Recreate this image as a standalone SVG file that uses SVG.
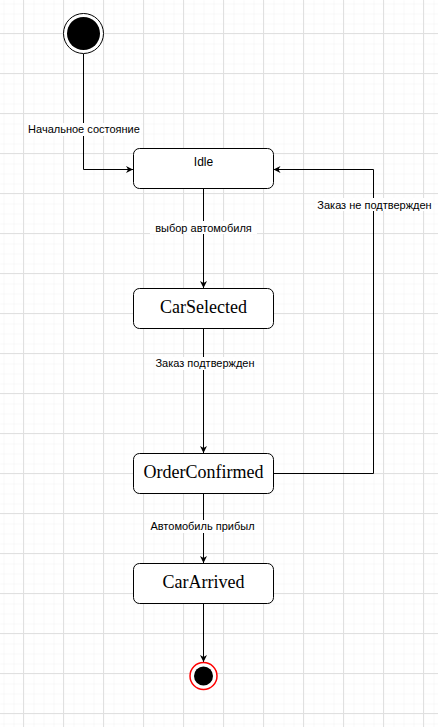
<svg xmlns="http://www.w3.org/2000/svg" width="438" height="727" viewBox="0 0 438 727">
<defs>
<pattern id="minor" x="3" y="3" width="10" height="10" patternUnits="userSpaceOnUse">
<path d="M0 0H10M0 0V10" fill="none" stroke="#f2f2f2" stroke-width="1"/>
</pattern>
<pattern id="major" x="23" y="33" width="40" height="40" patternUnits="userSpaceOnUse">
<path d="M0 0.5H40M0.5 0V40" fill="none" stroke="#e0e0e0" stroke-width="1"/>
</pattern>
<marker id="arr" viewBox="0 0 10 10" refX="10" refY="5" markerWidth="7" markerHeight="7" orient="auto" markerUnits="userSpaceOnUse">
<path d="M0 0L10 5L0 10L3 5Z" fill="#000"/>
</marker>
</defs>
<style>
.st{fill:#fff;stroke:#000;stroke-width:1}
.edge{fill:none;stroke:#000;stroke-width:1;marker-end:url(#arr)}
.lbl{font-family:"Liberation Sans",Arial,sans-serif;font-size:11px;fill:#000;text-anchor:middle}
.lb{fill:#fff}
.t1{font-family:"Liberation Sans",Arial,sans-serif;font-size:12px;fill:#000;text-anchor:middle}
.t2{font-family:"Liberation Serif","Times New Roman",serif;font-size:18px;fill:#000;text-anchor:middle}
</style>
<rect width="438" height="727" fill="#fff"/>
<rect x="0" y="0" width="438" height="727" fill="url(#minor)" transform="translate(0.5 0.5)"/>
<rect x="0" y="0" width="438" height="727" fill="url(#major)"/>

<g id="connectors">
<path class="edge" d="M83.5 54V169.5H133"/>
<path class="edge" d="M203.5 188V288"/>
<path class="edge" d="M203.5 328V453"/>
<path class="edge" d="M273 473.5H373.5V169.5H273.5"/>
<path class="edge" d="M203.5 493V563"/>
<path class="edge" d="M203.5 603V662"/>
<rect class="lb" x="28" y="123" width="113" height="13"/>
<text class="lbl" x="84" y="133">Начальное состояние</text>
<rect class="lb" x="150" y="221" width="107" height="13"/>
<text class="lbl" x="203.5" y="232">выбор автомобиля</text>
<rect class="lb" x="155" y="357" width="101" height="13"/>
<text class="lbl" x="205" y="367">Заказ подтвержден</text>
<rect class="lb" x="316" y="198" width="117" height="13"/>
<text class="lbl" x="374.5" y="209">Заказ не подтвержден</text>
<rect class="lb" x="150" y="520" width="105" height="13"/>
<text class="lbl" x="202.5" y="530">Автомобиль прибыл</text>
</g>

<g id="start">
<circle cx="83.5" cy="33.5" r="20" fill="#fff" stroke="#000" stroke-width="1"/>
<circle cx="83.5" cy="33.5" r="16.5" fill="#000"/>
</g>
<g id="idle">
<rect class="st" x="133.5" y="148.5" width="140" height="40" rx="6"/>
<text class="t1" x="203.5" y="166">Idle</text>
</g>
<g id="carSelected">
<rect class="st" x="133.5" y="288.5" width="140" height="40" rx="6"/>
<text class="t2" x="203.5" y="313">CarSelected</text>
</g>
<g id="orderConfirmed">
<rect class="st" x="133.5" y="453.5" width="140" height="40" rx="6"/>
<text class="t2" x="203.5" y="478">OrderConfirmed</text>
</g>
<g id="carArrived">
<rect class="st" x="133.5" y="563.5" width="140" height="40" rx="6"/>
<text class="t2" x="203.5" y="588">CarArrived</text>
</g>
<g id="end">
<circle cx="203.5" cy="676" r="13.5" fill="#fff" stroke="#ff0000" stroke-width="1.5"/>
<circle cx="203.5" cy="676" r="9.5" fill="#000"/>
</g>
</svg>
